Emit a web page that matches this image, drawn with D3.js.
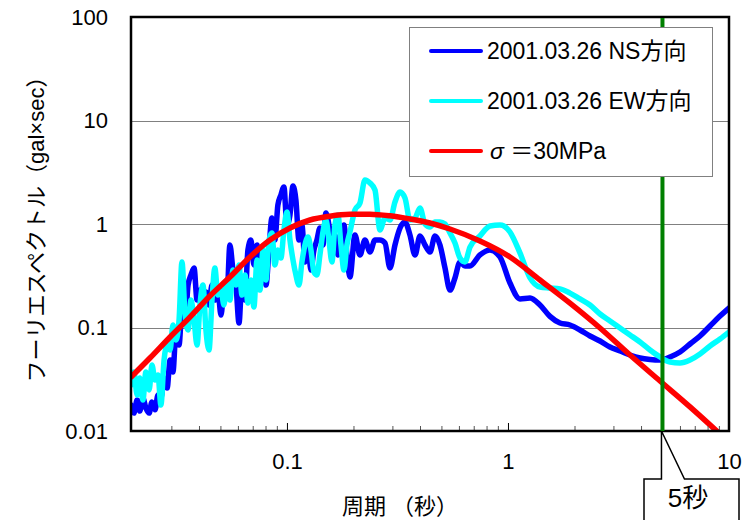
<!DOCTYPE html>
<html>
<head>
<meta charset="utf-8">
<script src="https://cdn.jsdelivr.net/npm/d3@7"></script>
<style>
  body { margin: 0; background: #fff; }
  svg { display: block; }
  text { font-family: "Liberation Sans", Arial, "Noto Sans CJK JP", sans-serif; fill: #000; }
</style>
</head>
<body>
<svg id="chart" width="749" height="520"></svg>
<script>
// Period grid (s) shared by the two observed spectra
const periods = [
  0.0197,0.0203,0.0210,0.0216,0.0223,0.0230,0.0238,0.0245,0.0253,0.0261,
  0.0269,0.0278,0.0287,0.0296,0.0305,0.0315,0.0325,0.0335,0.0346,0.0357,
  0.0368,0.0380,0.0392,0.0404,0.0417,0.0430,0.0444,0.0458,0.0472,0.0487,
  0.0503,0.0519,0.0535,0.0552,0.0570,0.0588,0.0607,0.0626,0.0646,0.0666,
  0.0687,0.0709,0.0732,0.0755,0.0779,0.0804,0.0829,0.0855,0.0882,0.0910,
  0.0939,0.0969,0.1000,0.1032,0.1065,0.1098,0.1133,0.1169,0.1206,0.1245,
  0.1284,0.1325,0.1367,0.1410,0.1455,0.1501,0.1549,0.1598,0.1649,0.1701,
  0.1755,0.1811,0.1868,0.1928,
  0.2031,0.2140,0.2254,0.2375,0.2502,0.2636,0.2778,0.2925,0.3082,0.3248,
  0.3420,0.3602,0.3796,0.3999,0.4212,0.4438,0.4674,0.4925,0.5188,0.5465,
  0.5757,0.6065,0.6389,0.6731,
  0.7469,0.8290,0.9200,1.021,1.133,1.258,1.396,1.549,1.719,1.908,
  2.118,2.351,2.609,2.894,3.214,3.566,3.958,4.391,4.874,5.409,
  6.002,6.661,7.393,8.204,9.105,10.0
];

// Fourier amplitude, NS component (gal·s)
const nsValues = [
  0.0178,0.0149,0.0199,0.0156,0.0208,0.0167,0.0149,0.0191,0.0160,0.0223,
  0.0208,0.0325,0.0260,0.0485,0.0372,0.0946,0.0677,0.148,0.113,0.257,
  0.322,0.376,0.184,0.230,0.148,0.220,0.165,0.257,0.184,0.230,
  0.132,0.230,0.193,0.627,0.359,0.257,0.1105,0.288,0.184,0.561,
  0.700,0.402,0.627,0.344,0.502,0.257,0.561,1.143,0.700,1.526,
  1.906,2.278,0.978,1.222,2.328,1.706,0.700,0.978,0.430,0.627,
  0.359,0.561,0.700,0.915,0.627,1.277,0.978,0.586,0.783,0.502,
  0.700,0.978,0.502,0.307,
  0.783,0.502,0.700,0.536,0.700,0.700,0.655,0.376,0.627,0.915,
  1.045,0.783,0.502,0.766,0.627,0.536,0.766,0.627,0.376,0.230,
  0.301,0.430,0.393,0.393,
  0.502,0.561,0.480,0.269,0.189,0.193,0.165,0.128,0.1105,0.1057,
  0.0946,0.0828,0.0741,0.0648,0.0593,0.0542,0.0507,0.0491,0.0485,0.0519,
  0.0580,0.0693,0.0828,0.1034,0.129,0.1543
];

// Fourier amplitude, EW component (gal·s)
const ewValues = [
  0.0278,0.0372,0.0223,0.0325,0.0199,0.0372,0.0249,0.0434,0.0311,0.0348,
  0.0178,0.0485,0.0677,0.0606,0.1057,0.0757,0.118,0.430,0.132,0.0946,
  0.184,0.118,0.0677,0.165,0.257,0.0946,0.0606,0.184,0.376,0.206,
  0.230,0.165,0.288,0.184,0.359,0.257,0.402,0.206,0.322,0.172,
  0.288,0.158,0.449,0.230,0.561,0.288,0.700,0.818,0.402,0.561,
  0.469,0.875,1.306,0.700,0.449,0.322,0.257,0.430,0.627,0.749,
  0.561,0.344,0.322,0.502,0.837,1.093,0.700,0.430,0.978,1.222,
  0.627,0.359,0.627,0.837,
  1.366,1.595,2.661,2.489,2.131,0.875,1.143,1.093,1.632,2.038,
  1.783,1.093,1.143,1.427,1.000,0.9355,1.045,1.045,1.000,0.818,
  0.655,0.469,0.430,0.599,
  0.766,0.956,0.978,0.837,0.525,0.301,0.246,0.241,0.236,0.215,
  0.189,0.165,0.135,0.1156,0.0989,0.0847,0.0724,0.0606,0.0519,0.0464,
  0.0454,0.0485,0.0555,0.0663,0.0774,0.0905
];

// Source model spectrum, stress drop 30 MPa
const modelPeriods = [
  0.0197,0.0240,0.0296,0.0364,0.0448,0.0552,0.0680,0.0838,0.1032,0.1271,
  0.1565,0.1928,0.2375,0.2925,0.3602,0.4438,0.5465,0.7469,1.021,1.396,
  1.908,2.609,3.566,4.874,6.661,9.105
];
const modelValues = [
  0.0332,0.0507,0.0810,0.126,0.2015,0.307,0.480,0.700,0.915,1.093,
  1.19,1.24,1.245,1.20,1.118,1.022,0.8947,0.685,0.480,0.288,
  0.172,0.0989,0.0542,0.0304,0.0171,0.00935
];

const xTickLabels = [0.1, 1, 10];
const yTickLabels = [0.01, 0.1, 1, 10, 100];
const yGridValues = [0.1, 1, 10];
const markerPeriod = 5;
const markerLabel = "5秒";
const seriesNames = ["2001.03.26 NS方向", "2001.03.26 EW方向", "σ ＝30MPa"];
const seriesColors = ["#0000ff", "#00ffff", "#ff0000"];
const xTitle = "周期 （秒）";
const yTitle = "フーリエスペクトル（gal×sec）";

const W = 749, H = 520;
const plot = { left: 131, right: 729, top: 17, bottom: 431 };
const svg = d3.select("#chart");

const x = d3.scaleLog().domain([0.0197, 10]).range([plot.left, plot.right]);
const y = d3.scaleLog().domain([0.01, 100]).range([plot.bottom, plot.top]);

svg.append("rect").attr("width", W).attr("height", H).attr("fill", "#fff");

svg.append("defs").append("clipPath").attr("id", "plotClip")
  .append("rect")
  .attr("x", plot.left).attr("y", plot.top)
  .attr("width", plot.right - plot.left).attr("height", plot.bottom - plot.top);

// horizontal gridlines
svg.append("g").selectAll("line").data(yGridValues).join("line")
  .attr("x1", plot.left).attr("x2", plot.right)
  .attr("y1", d => Math.round(y(d)) + 0.5).attr("y2", d => Math.round(y(d)) + 0.5)
  .attr("stroke", "#808080").attr("stroke-width", 1);

// spectra
const line = d3.line()
  .x(d => x(d[0])).y(d => y(d[1]))
  .curve(d3.curveMonotoneX);

const seriesData = [
  d3.zip(periods, nsValues),
  d3.zip(periods, ewValues),
  d3.zip(modelPeriods, modelValues)
];

const lines = svg.append("g").attr("clip-path", "url(#plotClip)");
seriesData.forEach((data, i) => {
  lines.append("path")
    .datum(data)
    .attr("d", line)
    .attr("fill", "none")
    .attr("stroke", seriesColors[i])
    .attr("stroke-width", 5.5)
    .attr("stroke-linejoin", "round")
    .attr("stroke-linecap", "round");
});

// x axis: minor ticks pointing inward
const minorTicks = x.ticks().filter(t => {
  const lg = Math.log10(t);
  return Math.abs(lg - Math.round(lg)) > 1e-6 && t > 0.021 && t < 9.9;
});
svg.append("g")
  .attr("transform", `translate(0,${plot.bottom})`)
  .call(d3.axisBottom(x).tickValues(minorTicks).tickSize(-5).tickFormat(""))
  .call(g => g.select(".domain").remove())
  .call(g => g.selectAll("line").attr("stroke", "#555"));

// x axis: decade ticks and labels
svg.append("g")
  .attr("transform", `translate(0,${plot.bottom})`)
  .call(d3.axisBottom(x).tickValues(xTickLabels).tickSize(-8).tickPadding(22)
    .tickFormat(d => String(d)))
  .call(g => g.select(".domain").remove())
  .call(g => g.attr("font-family", null).attr("font-size", 22))
  .call(g => g.selectAll("line").attr("stroke", "#000"))
  .call(g => g.selectAll("text").attr("fill", "#000"));

// y axis labels
svg.append("g")
  .attr("transform", `translate(${plot.left},0)`)
  .call(d3.axisLeft(y).tickValues(yTickLabels).tickSize(0).tickPadding(23)
    .tickFormat(d => String(d)))
  .call(g => g.select(".domain").remove())
  .call(g => g.attr("font-family", null).attr("font-size", 22))
  .call(g => g.selectAll("text").attr("fill", "#000"));

// plot frame
svg.append("rect")
  .attr("x", plot.left).attr("y", plot.top)
  .attr("width", plot.right - plot.left).attr("height", plot.bottom - plot.top)
  .attr("fill", "none").attr("stroke", "#000").attr("stroke-width", 2.5);

// 5 s marker
const mx = x(markerPeriod);
svg.append("line")
  .attr("x1", mx).attr("x2", mx)
  .attr("y1", plot.top + 1).attr("y2", plot.bottom)
  .attr("stroke", "#008000").attr("stroke-width", 4);

// legend
const legend = svg.append("g");
legend.append("rect")
  .attr("x", 409.5).attr("y", 27.5).attr("width", 303).attr("height", 149)
  .attr("fill", "#fff").attr("stroke", "#808080").attr("stroke-width", 1);
seriesNames.forEach((name, i) => {
  const ly = 51 + i * 50;
  legend.append("line")
    .attr("x1", 431).attr("x2", 481).attr("y1", ly).attr("y2", ly)
    .attr("stroke", seriesColors[i]).attr("stroke-width", 4)
    .attr("stroke-linecap", "round");
  const t = legend.append("text")
    .attr("x", 487).attr("y", ly).attr("dy", "0.36em")
    .attr("font-size", 23);
  if (name.startsWith("σ")) {
    t.append("tspan").attr("font-style", "italic").attr("dx", 3).text("σ");
    t.append("tspan").text(name.slice(1));
  } else {
    t.text(name);
  }
});

// axis titles
svg.append("text")
  .attr("transform", "translate(36,224) rotate(-90)")
  .attr("text-anchor", "middle").attr("dy", "0.36em")
  .attr("font-size", 22)
  .text(yTitle);

svg.append("text")
  .attr("x", 400).attr("y", 514)
  .attr("text-anchor", "middle")
  .attr("font-size", 22)
  .text(xTitle);

// callout for the 5 s marker
const tipX = mx, tipY = plot.bottom;
const boxL = 644, boxR = 739, boxT = 479, boxB = 530;
svg.append("path")
  .attr("d", `M${tipX - 1},${tipY} L${tipX - 1},${boxT} L${boxL},${boxT} L${boxL},${boxB} ` +
             `L${boxR},${boxB} L${boxR},${boxT} L${tipX + 22},${boxT} Z`)
  .attr("fill", "#fff").attr("stroke", "#000").attr("stroke-width", 1.5)
  .attr("stroke-linejoin", "miter");
svg.append("text")
  .attr("x", 688).attr("y", 507)
  .attr("text-anchor", "middle")
  .attr("font-size", 26)
  .text(markerLabel);
</script>
</body>
</html>
